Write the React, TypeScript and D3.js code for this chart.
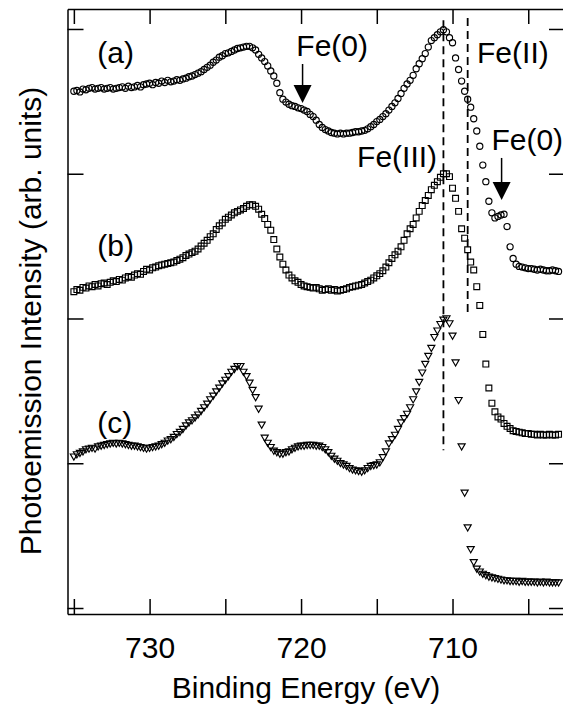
import React, { useRef, useEffect } from "react";
import * as d3 from "d3";

// energy grid of the scans (eV), high to low binding energy
const energyStart = 735.0;
const energyStep = 0.2;

// (a) circles
const seriesA = [
  357, 357.5, 356.5, 358.5, 358, 359, 359.5, 358.5, 359, 359.5,
  358.5, 359, 359.5, 358.5, 359, 359.5, 360, 359, 360.5, 359.5,
  360, 361, 360, 361.5, 362, 362.5, 361.5, 363, 362.5, 364,
  363, 364.5, 363.5, 364, 365, 364.5, 365.5, 366, 367, 367.5,
  368.5, 369.5, 370.5, 372, 373.5, 375, 377, 378.5, 380.5, 381.5,
  383, 383.5, 384.5, 385.5, 386.5, 387, 387.5, 388, 388, 387,
  385.5, 382.5, 380, 377.5, 374.5, 371, 367.5, 362.5, 356, 351.5,
  349.5, 348, 347, 346.5, 345.5, 345, 344, 343, 341, 339.5,
  337, 334, 332, 330.5, 329.5, 328.5, 328, 327.5, 328, 327.5,
  328, 328, 328.5, 329, 329, 329.5, 330, 331, 332.5, 334,
  336, 337.5, 339.5, 341.5, 344, 346.5, 349, 352, 355.5, 359,
  362, 364.5, 368, 372.5, 376, 379.5, 383, 387.5, 392, 394,
  396, 398, 399.5, 398, 394, 390.5, 380, 372, 364, 357,
  351.5, 346, 338, 329.5, 319, 306, 294.5, 281, 273, 269.5,
  270.5, 271.5, 272, 263.5, 249.5, 241.5, 237.5, 236, 235.5, 235,
  234.5, 234.5, 234, 233.5, 234, 233.5, 233, 233, 233.5, 233,
  232.5,
];

// (b) squares
const seriesB = [
  218.5, 220, 219.5, 221.5, 221, 222.5, 222, 223.5, 222.5, 224,
  224.5, 223.5, 225, 226, 225.5, 227, 226.5, 228, 229, 228.5,
  230, 231, 230.5, 232.5, 234, 233.5, 235, 235.5, 236.5, 237,
  237.5, 238, 238.5, 239, 240, 241, 242, 243.5, 244.5, 245.5,
  246.5, 248, 250, 252, 254, 256.5, 258.5, 261.5, 264, 266,
  268.5, 270, 271.5, 273, 274, 275, 276, 277.5, 278.5, 278.5,
  277.5, 275.5, 272, 269, 265, 261, 254.5, 248, 242.5, 237.5,
  233.5, 230, 228, 226, 225, 223.5, 222.5, 222, 221.5, 221,
  221.5, 220.5, 219.5, 220, 220.5, 219.5, 220, 219, 219.5, 220,
  220.5, 221.5, 222, 222.5, 223, 223.5, 224.5, 225.5, 226.5, 228,
  229.5, 231, 233, 235.5, 238.5, 241.5, 244, 246.5, 249.5, 254,
  258.5, 262, 265, 269.5, 274, 278, 281.5, 285, 289, 292,
  294.5, 297.5, 300, 300, 298, 290, 283, 274, 262, 255.5,
  247.5, 239, 233.5, 222, 209, 189, 168.5, 152, 141.5, 135.5,
  132, 130.5, 127.5, 125.5, 124, 122.5, 122, 121.5, 121, 120.5,
  120.5, 120, 120, 119.5, 120, 119.5, 119.5, 120, 119.5, 119.5,
  120,
];

// (c) down triangles
const seriesC = [
  105, 106.5, 107.5, 108.5, 110, 110.5, 111, 110.5, 112, 112.5,
  113, 113.5, 114, 114.5, 114, 114.5, 114, 113.5, 113, 112.5,
  112.5, 112, 111.5, 111, 110.5, 111, 111.5, 112, 112.5, 113.5,
  114.5, 116, 117, 118.5, 120.5, 122, 124, 126.5, 128.5, 130,
  132, 134, 136.5, 139, 141.5, 144.5, 147, 150, 152.5, 155.5,
  158, 160.5, 163.5, 165.5, 167.5, 167.5, 163.5, 160.5, 156, 151,
  146, 138, 127, 118, 114.5, 111.5, 109, 108, 107, 107,
  108, 108.5, 110, 111, 112, 112.5, 112.5, 113, 113, 113,
  112.5, 112.5, 111.5, 110, 108, 105.5, 103.5, 102, 100.5, 99.5,
  98.5, 97, 96, 95.5, 95, 94.5, 95.5, 97, 98.5, 99,
  99.5, 101, 104.5, 108.5, 114, 117, 120, 124, 128.5, 131.5,
  134.5, 139, 144.5, 150, 156.5, 163, 169, 174.5, 180, 187.5,
  192, 196.5, 199.5, 200.5, 197, 188.5, 170, 144, 112, 80,
  56, 41, 32, 27.5, 25.5, 24, 23, 22, 21.5, 21,
  20.5, 20, 19.5, 19.5, 19, 19, 19, 18.5, 19, 18.5,
  18.5, 18.5, 18.5, 18, 18.5, 18, 18.5, 18, 18, 18,
  18,
];

const xTicks = [735, 730, 725, 720, 715, 710, 705];
const xTickLabels = ["", "730", "", "720", "", "710", ""];
const yTicks = [0, 100, 200, 300, 400];

const seriesLabels = [
  { text: "(a)", energy: 733.45, value: 376.5 },
  { text: "(b)", energy: 733.45, value: 243.2 },
  { text: "(c)", energy: 733.45, value: 121 },
];

const stateLabels = [
  { text: "Fe(0)", energy: 720.31, value: 381.3 },
  { text: "Fe(II)", energy: 708.38, value: 376.5 },
  { text: "Fe(III)", energy: 716.3, value: 304.6 },
  { text: "Fe(0)", energy: 707.43, value: 316.4 },
];

const arrows = [
  { energy: 719.9, from: 375.8, to: 348.9 },
  { energy: 706.76, from: 310.9, to: 281.9 },
];

const dashedLines = [
  { energy: 710.6, from: 109, to: 406 },
  { energy: 709.0, from: 204, to: 407.5 },
];

function App() {
  const svgRef = useRef(null);

  useEffect(() => {
    const svg = d3.select(svgRef.current);
    svg.selectAll("*").remove();

    const font = "'Liberation Sans', Arial, Helvetica, sans-serif";
    const left = 67.5, right = 564, top = 9, bottom = 614;

    const x = d3.scaleLinear().domain([735.42, 702.64]).range([left, right]);
    const y = d3.scaleLinear().domain([-4.14, 413.8]).range([bottom, top]);

    const styleAxis = (g) => {
      g.selectAll("path, line").attr("stroke", "#000").attr("stroke-width", 1.5);
      g.selectAll("text")
        .attr("font-family", font)
        .attr("font-size", 30)
        .attr("fill", "#000");
    };

    // bottom axis with labels
    svg
      .append("g")
      .attr("transform", `translate(0, ${bottom})`)
      .call(
        d3
          .axisBottom(x)
          .tickValues(xTicks)
          .tickSizeInner(-15)
          .tickSizeOuter(0)
          .tickPadding(22.7)
          .tickFormat((d, i) => xTickLabels[i])
      )
      .call(styleAxis);

    // top axis
    svg
      .append("g")
      .attr("transform", `translate(0, ${top})`)
      .call(d3.axisTop(x).tickValues(xTicks).tickSizeInner(-15).tickSizeOuter(0).tickFormat(() => ""))
      .call(styleAxis);

    // left axis
    svg
      .append("g")
      .attr("transform", `translate(${left}, 0)`)
      .call(d3.axisLeft(y).tickValues(yTicks).tickSizeInner(-16).tickSizeOuter(0).tickFormat(() => ""))
      .call(styleAxis);

    // right axis
    svg
      .append("g")
      .attr("transform", `translate(${right}, 0)`)
      .call(d3.axisRight(y).tickValues(yTicks).tickSizeInner(-15).tickSizeOuter(0).tickFormat(() => ""))
      .call(styleAxis);

    // dashed guide lines
    svg
      .selectAll(".guide")
      .data(dashedLines)
      .enter()
      .append("line")
      .attr("x1", (d) => x(d.energy))
      .attr("x2", (d) => x(d.energy))
      .attr("y1", (d) => y(d.to))
      .attr("y2", (d) => y(d.from))
      .attr("stroke", "#000")
      .attr("stroke-width", 1.8)
      .attr("stroke-dasharray", "8,5");

    const energyAt = (i) => energyStart - i * energyStep;

    const drawSeries = (values, symbolType, size, rotate) => {
      const path = d3.symbol().type(symbolType).size(size)();
      svg
        .append("g")
        .selectAll("path")
        .data(values)
        .enter()
        .append("path")
        .attr("d", path)
        .attr(
          "transform",
          (d, i) => `translate(${x(energyAt(i))}, ${y(d)})${rotate ? " rotate(180)" : ""}`
        )
        .attr("fill", "none")
        .attr("stroke", "#000")
        .attr("stroke-width", 1.15);
    };

    drawSeries(seriesA, d3.symbolCircle, 30, false);
    drawSeries(seriesB, d3.symbolSquare, 34, false);
    drawSeries(seriesC, d3.symbolTriangle, 22, true);

    // arrows
    arrows.forEach((a) => {
      const ax = x(a.energy);
      const y0 = y(a.from);
      const tip = y(a.to);
      svg
        .append("line")
        .attr("x1", ax)
        .attr("x2", ax)
        .attr("y1", y0)
        .attr("y2", tip - 17)
        .attr("stroke", "#000")
        .attr("stroke-width", 1.5);
      svg
        .append("path")
        .attr("d", `M${ax - 9},${tip - 18}L${ax + 9},${tip - 18}L${ax},${tip}Z`)
        .attr("fill", "#000");
    });

    // text labels
    svg
      .selectAll(".lbl")
      .data([...seriesLabels, ...stateLabels])
      .enter()
      .append("text")
      .attr("x", (d) => x(d.energy))
      .attr("y", (d) => y(d.value))
      .attr("font-family", font)
      .attr("font-size", 30)
      .attr("fill", "#000")
      .text((d) => d.text);

    // axis titles
    svg
      .append("text")
      .attr("x", 306)
      .attr("y", 698)
      .attr("text-anchor", "middle")
      .attr("font-family", font)
      .attr("font-size", 30)
      .text("Binding Energy (eV)");

    svg
      .append("text")
      .attr("transform", "translate(41, 321) rotate(-90)")
      .attr("text-anchor", "middle")
      .attr("font-family", font)
      .attr("font-size", 30)
      .text("Photoemission Intensity (arb. units)");
  }, []);

  return (
    <svg
      ref={svgRef}
      width={563}
      height={706}
      style={{ position: "absolute", left: 0, top: 0, background: "#fff" }}
    />
  );
}

export default App;
